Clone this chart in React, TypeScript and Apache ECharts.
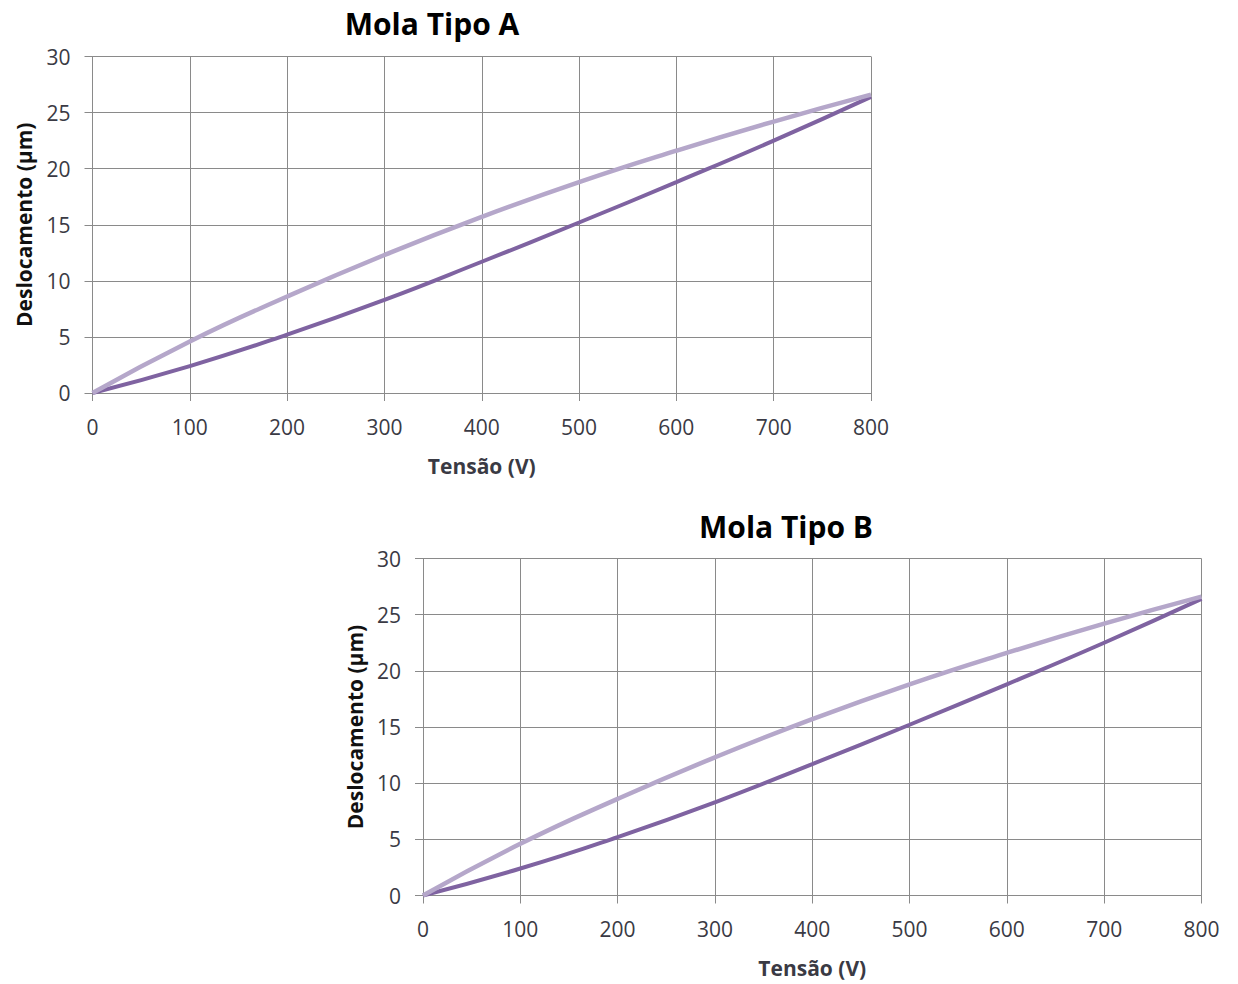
import React, { useEffect, useRef } from "react";
import * as echarts from "echarts";

const tensao = [0, 100, 200, 300, 400, 500, 600, 700, 800];
const molaADescida = [0, 4.6, 8.6, 12.3, 15.7, 18.8, 21.6, 24.2, 26.6];
const molaASubida = [0, 2.4, 5.2, 8.3, 11.7, 15.2, 18.8, 22.5, 26.4];
const molaBDescida = [0, 4.6, 8.6, 12.3, 15.7, 18.8, 21.6, 24.2, 26.6];
const molaBSubida = [0, 2.4, 5.2, 8.3, 11.7, 15.2, 18.8, 22.5, 26.4];
const titles = ["Mola Tipo A", "Mola Tipo B"];
const xName = "Tensão (V)";
const yName = "Deslocamento (µm)";

const FONT = "'Open Sans', 'DejaVu Sans', sans-serif";
const GRID_COLOR = "#8a8a8a";
const LABEL_COLOR = "#3a3a44";
const DARK = "#7f63a1";
const LIGHT = "#b5a7ca";

const pairs = (ys: number[]) => tensao.map((x, i) => [x, ys[i]]);

export default function App() {
  const ref = useRef<HTMLDivElement>(null);
  useEffect(() => {
    if (!ref.current) return;
    const chart = echarts.init(ref.current, null, { renderer: "svg" });
    const xAxisBase = (gridIndex: number) => ({
      type: "value" as const,
      gridIndex,
      min: 0,
      max: 800,
      interval: 100,
      name: xName,
      nameLocation: "middle" as const,
      nameGap: 62,
      nameTextStyle: { fontFamily: FONT, fontSize: 21, fontWeight: "bold", color: LABEL_COLOR },
      axisLine: { show: true, lineStyle: { color: GRID_COLOR, width: 1 } },
      axisTick: { show: true, length: 8, lineStyle: { color: GRID_COLOR } },
      axisLabel: { fontFamily: FONT, fontSize: 21, color: LABEL_COLOR, margin: 23 },
      splitLine: { show: true, lineStyle: { color: GRID_COLOR, width: 1 } },
    });
    const yAxisBase = (gridIndex: number) => ({
      type: "value" as const,
      gridIndex,
      min: 0,
      max: 30,
      interval: 5,
      name: yName,
      nameLocation: "middle" as const,
      nameGap: 58,
      nameTextStyle: { fontFamily: FONT, fontSize: 21, fontWeight: "bold", color: "#111" },
      axisLine: { show: true, lineStyle: { color: GRID_COLOR, width: 1 } },
      axisTick: { show: true, length: 8, lineStyle: { color: GRID_COLOR } },
      axisLabel: { fontFamily: FONT, fontSize: 21, color: LABEL_COLOR, margin: 22 },
      splitLine: { show: true, lineStyle: { color: GRID_COLOR, width: 1 } },
    });
    const line = (data: number[][], color: string, idx: number, width: number) => ({
      type: "line" as const,
      xAxisIndex: idx,
      yAxisIndex: idx,
      data,
      smooth: true,
      showSymbol: false,
      symbol: "none",
      lineStyle: { color, width },
    });
    chart.setOption({
      animation: false,
      backgroundColor: "#ffffff",
      title: [
        {
          text: titles[0],
          left: 427,
          top: 3,
          textAlign: "center",
          textStyle: { fontFamily: FONT, fontSize: 30, fontWeight: "bold", color: "#000" },
        },
        {
          text: titles[1],
          left: 781,
          top: 506,
          textAlign: "center",
          textStyle: { fontFamily: FONT, fontSize: 30, fontWeight: "bold", color: "#000" },
        },
      ],
      grid: [
        { left: 92.5, top: 56.5, width: 778.5, height: 336.5 },
        { left: 423, top: 558.5, width: 778.5, height: 337 },
      ],
      xAxis: [xAxisBase(0), xAxisBase(1)],
      yAxis: [yAxisBase(0), yAxisBase(1)],
      series: [
        line(pairs(molaASubida), DARK, 0, 4),
        line(pairs(molaADescida), LIGHT, 0, 4.5),
        line(pairs(molaBSubida), DARK, 1, 4),
        line(pairs(molaBDescida), LIGHT, 1, 4.5),
      ],
    });
    return () => chart.dispose();
  }, []);
  return (
    <div
      ref={ref}
      style={{ position: "absolute", left: 0, top: 0, width: 1238, height: 984, background: "#fff" }}
    />
  );
}
